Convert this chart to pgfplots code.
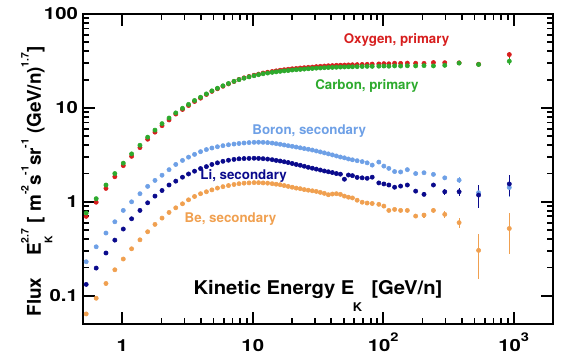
\documentclass[border=0pt]{standalone}
\usepackage{pgfplots}
\pgfplotsset{compat=1.18}
\usepackage{pgfplotstable}
\usepackage{fontspec}
\setmainfont{TeX Gyre Heros}

\definecolor{cO}{RGB}{215,30,30}
\definecolor{cC}{RGB}{45,170,45}
\definecolor{cB}{RGB}{110,160,230}
\definecolor{cLi}{RGB}{10,10,140}
\definecolor{cBe}{RGB}{240,160,80}

\newcommand\tickfont{\fontsize{12.5}{14}\selectfont\bfseries}
\newcommand\labfont{\fontsize{14.2}{16}\selectfont\bfseries}
\newcommand\annfont{\fontsize{10}{12}\selectfont\bfseries}
\newcommand\up[1]{\raisebox{0.66em}{\fontsize{7.8}{8}\selectfont #1}}
\newcommand\dn[1]{\raisebox{-0.6em}{\fontsize{7.8}{8}\selectfont #1}}
\newcommand\tup[1]{\raisebox{0.62em}{\fontsize{9}{9}\selectfont #1}}

\pgfplotstableread{
E O eO C eC B eB Li eLi Be eBe
0.529 0.70 0 0.76 0 0.23 0 0.132 0 0.064 0
0.631 0.99 0 1.08 0 0.332 0 0.197 0 0.094 0
0.750 1.39 0 1.51 0 0.465 0 0.285 0 0.135 0
0.877 1.85 0 2.0 0 0.613 0 0.391 0 0.189 0
1.018 2.43 0 2.58 0 0.81 0 0.513 0 0.246 0
1.179 3.05 0 3.24 0 1.0 0 0.66 0 0.316 0
1.366 3.78 0 4.0 0 1.22 0 0.81 0 0.394 0
1.565 4.64 0 4.88 0 1.46 0 0.976 0 0.48 0
1.781 5.52 0 5.8 0 1.69 0 1.15 0 0.575 0
2.017 6.47 0 6.8 0 1.92 0 1.32 0 0.671 0
2.283 7.45 0 7.8 0 2.2 0 1.51 0 0.771 0
2.570 8.6 0 8.85 0 2.5 0 1.66 0 0.863 0
2.894 9.62 0 9.9 0 2.76 0 1.83 0 0.953 0
3.219 10.6 0 10.9 0 2.99 0 1.98 0 1.05 0
3.580 11.7 0 12.0 0 3.2 0 2.12 0 1.14 0
3.981 12.7 0 13.0 0 3.42 0 2.26 0 1.22 0
4.412 13.9 0 14.1 0 3.6 0 2.37 0 1.28 0
4.863 15.0 0 15.2 0 3.74 0 2.5 0 1.34 0
5.361 16.0 0 16.2 0 3.86 0 2.6 0 1.40 0
5.909 17.0 0 17.2 0 3.96 0 2.7 0 1.45 0
6.514 18.0 0 18.2 0 4.05 0 2.77 0 1.49 0
7.181 19.1 0 19.2 0 4.12 0 2.83 0 1.53 0
7.846 20.1 0 20.0 0 4.18 0 2.87 0 1.56 0
8.575 20.9 0 20.7 0 4.23 0 2.89 0 1.58 0
9.366 21.6 0 21.4 0 4.27 0 2.9 0 1.59 0
10.23 22.3 0 22.0 0 4.3 0 2.91 0 1.6 0
11.08 22.9 0 22.6 0 4.31 0 2.9 0 1.6 0
12.0 23.5 0 23.1 0 4.3 0 2.88 0 1.59 0
13.0 24.0 0 23.5 0 4.27 0 2.85 0 1.58 0
14.08 24.4 0 23.9 0 4.22 0 2.81 0 1.56 0
15.11 24.8 0 24.2 0 4.16 0 2.76 0 1.54 0
16.22 25.2 0 24.5 0 4.1 0 2.72 0 1.52 0
17.41 25.5 0 24.8 0 4.03 0 2.67 0 1.49 0
18.68 25.8 0 25.0 0 3.96 0 2.62 0 1.46 0
20.06 26.1 0 25.3 0 3.9 0 2.56 0 1.43 0
21.53 26.3 0 25.5 0 3.83 0 2.5 0 1.40 0
23.11 26.6 0 25.7 0 3.76 0 2.45 0 1.38 0
24.81 26.8 0 25.9 0 3.69 0 2.39 0 1.35 0
26.63 27.0 0 26.1 0 3.63 0 2.33 0 1.33 0
28.59 27.2 0 26.3 0 3.56 0 2.28 0 1.31 0
30.68 27.5 0 26.5 0 3.48 0 2.23 0 1.29 0
32.94 27.7 0 26.6 0 3.40 0 2.18 0 1.26 0
35.36 27.9 0 26.8 0 3.32 0 2.13 0 1.23 0
37.95 28.1 0 26.9 0 3.24 0 2.09 0 1.19 0
40.74 28.2 0 27.0 0 3.16 0 2.05 0 1.21 0
43.74 28.4 0 27.1 0 3.08 0 2.0 0 1.22 0
46.95 28.5 0 27.2 0 3.0 0 1.97 0 1.2 0
50.39 28.6 0 27.3 0 2.94 0 1.74 0 1.15 0
54.09 28.7 0 27.4 0 2.86 0 1.93 0 1.12 0
58.06 28.8 0 27.4 0 2.8 0 1.9 0 1.1 0
63.1 28.9 0.2 27.5 0.2 2.74 0.02 1.82 0.02 1.04 0.01
68.95 29.0 0.2 27.6 0.2 2.68 0.02 1.8 0.02 0.99 0.01
75.3 29.1 0.2 27.7 0.2 2.6 0.03 1.78 0.02 0.97 0.015
82.3 29.3 0.2 27.7 0.2 2.46 0.03 1.83 0.03 0.96 0.015
92.5 29.4 0.2 27.8 0.2 2.65 0.04 1.59 0.03 0.94 0.02
101.1 29.6 0.3 27.9 0.3 2.4 0.04 1.55 0.03 0.9 0.02
110.4 29.5 0.3 27.8 0.3 2.27 0.04 1.51 0.03 0.81 0.02
122.2 29.9 0.3 28.0 0.3 2.1 0.05 1.43 0.04 0.83 0.025
135.9 29.8 0.3 27.9 0.3 2.08 0.05 1.47 0.04 0.81 0.03
153 30.0 0.4 28.1 0.4 2.2 0.06 1.51 0.05 0.81 0.03
177.2 29.9 0.4 28.0 0.4 2.0 0.07 1.3 0.05 0.705 0.04
205.3 29.8 0.5 28.2 0.5 2.04 0.08 1.2 0.06 0.722 0.045
242.4 30.4 0.6 28.0 0.6 1.96 0.09 1.51 0.08 0.81 0.05
296.1 30.3 0.8 28.4 0.8 1.8 0.1 1.28 0.1 0.735 0.06
381.5 30.2 1.0 30.0 1.0 1.7 0.12 1.28 0.12 0.6 0.08
538 29.2 1.4 29.0 1.4 1.25 0.25 1.18 0.33 0.304 0.155
925 37.0 2.8 31.4 2.5 1.42 0.3 1.55 0.4 0.52 0.24
}\data

\begin{document}
\begin{tikzpicture}
\begin{axis}[
  scale only axis, width=352.5pt, height=232.5pt,
  xmode=log, ymode=log,
  xmin=0.5, xmax=2000, ymin=0.05, ymax=100,
  axis line style={line width=2.2pt},
  every tick/.style={black, line width=1.4pt},
  major tick length=9pt, minor tick length=4.5pt,
  xtick={1,10,100,1000},
  xticklabels={1,10,10\tup{2},10\tup{3}},
  ytick={0.1,1,10,100},
  yticklabels={0.1,1,10,100},
  tick label style={font=\tickfont},
  xticklabel style={anchor=base, yshift=-20.8pt, xscale=1.22},
  yticklabel style={anchor=east, inner sep=0pt, xshift=-3.6pt, xscale=1.22},
  clip=false,
  error bars/y dir=both, error bars/y explicit,
  error bars/error mark=none,
]
\addplot[only marks, mark=*, mark size=1.6pt, color=cO,
  error bars/error bar style={line width=0.8pt, cO}]
  table[x=E, y=O, y error=eO]{\data};
\addplot[only marks, mark=*, mark size=1.6pt, color=cC,
  error bars/error bar style={line width=0.8pt, cC}]
  table[x=E, y=C, y error=eC]{\data};
\addplot[only marks, mark=*, mark size=1.6pt, color=cB,
  error bars/error bar style={line width=0.8pt, cB}]
  table[x=E, y=B, y error=eB]{\data};
\addplot[only marks, mark=*, mark size=1.6pt, color=cLi,
  error bars/error bar style={line width=0.8pt, cLi}]
  table[x=E, y=Li, y error=eLi]{\data};
\addplot[only marks, mark=*, mark size=1.6pt, color=cBe,
  error bars/error bar style={line width=0.8pt, cBe}]
  table[x=E, y=Be, y error=eBe]{\data};

\node[font=\annfont, text=cO] at (axis cs:126.5,52.5) {Oxygen, primary};
\node[font=\annfont, text=cC] at (axis cs:75,17.2) {Carbon, primary};
\node[font=\annfont, text=cB] at (axis cs:27.1,5.65) {Boron, secondary};
\node[font=\annfont, text=cLi] at (axis cs:8.5,1.9) {Li, secondary};
\node[font=\annfont, text=cBe] at (axis cs:6.75,0.655) {Be, secondary};

\node[font=\labfont, anchor=base, xscale=1.07] at (rel axis cs:0.5,0.094)
  {Kinetic Energy E\kern-0.08em\raisebox{-0.88em}{\fontsize{9}{9}\selectfont K}\hspace{0.45em}[GeV/n]};
\node[font=\labfont, rotate=90, anchor=base] at ([xshift=-31.5pt]rel axis cs:0,0.46)
  {Flux\hspace{1.15em}E\rlap{\dn{K}}\up{2.7} [ m\up{-2}s\up{-1}sr\up{-1} (GeV/n)\up{1.7}]};

\coordinate (bl) at (rel axis cs:0,0);
\coordinate (tr) at (rel axis cs:1,1);
\end{axis}
\pgfresetboundingbox
\path[use as bounding box] ([shift={(-62.25pt,-25.5pt)}]bl) rectangle ([shift={(17.25pt,10.5pt)}]tr);
\end{tikzpicture}
\end{document}
